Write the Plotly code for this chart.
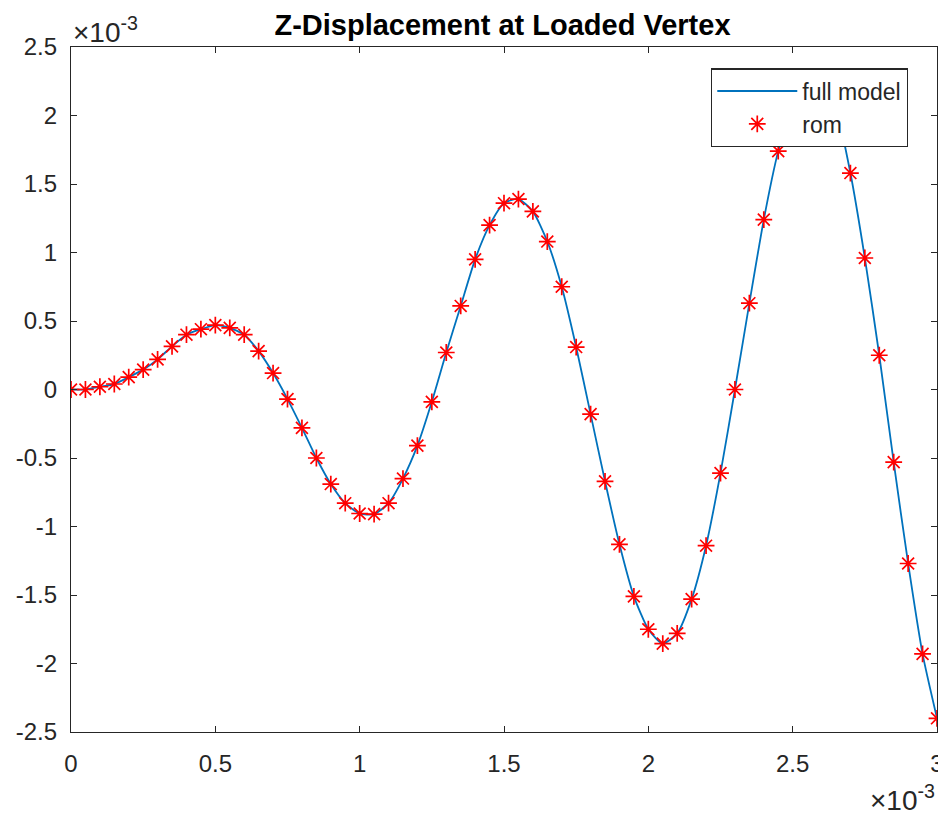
import plotly.graph_objects as go

# values are in units of 1e-3 (both axes), as on the MATLAB axes
t_full = [0.00, 0.05, 0.10, 0.15, 0.20, 0.25, 0.30, 0.35, 0.40, 0.45,
          0.50, 0.55, 0.60, 0.65, 0.70, 0.75, 0.80, 0.85, 0.90, 0.95,
          1.00, 1.05, 1.10, 1.15, 1.20, 1.25, 1.30, 1.35, 1.40, 1.45,
          1.50, 1.55, 1.60, 1.65, 1.70, 1.75, 1.80, 1.85, 1.90, 1.95,
          2.00, 2.05, 2.10, 2.15, 2.20, 2.25, 2.30, 2.35, 2.40, 2.45,
          2.50, 2.55, 2.60, 2.65, 2.70, 2.75, 2.80, 2.85, 2.90, 2.95,
          3.00]
uz_full = [0.00, 0.00, 0.02, 0.04, 0.09, 0.145, 0.22, 0.315, 0.40, 0.44,
           0.47, 0.45, 0.40, 0.28, 0.12, -0.07, -0.28, -0.50, -0.69, -0.83,
           -0.905, -0.91, -0.83, -0.65, -0.41, -0.09, 0.27, 0.61, 0.95, 1.20,
           1.36, 1.39, 1.30, 1.08, 0.75, 0.31, -0.18, -0.67, -1.13, -1.51,
           -1.75, -1.855, -1.78, -1.53, -1.14, -0.61, 0.00, 0.63, 1.24, 1.74,
           2.08, 2.27, 2.25, 2.05, 1.58, 0.96, 0.25, -0.53, -1.27, -1.93,
           -2.40]

t_rom = t_full
uz_rom = uz_full

x_tickvals = [0, 0.5, 1, 1.5, 2, 2.5, 3]
x_ticktext = ["0", "0.5", "1", "1.5", "2", "2.5", "3"]
y_tickvals = [-2.5, -2, -1.5, -1, -0.5, 0, 0.5, 1, 1.5, 2, 2.5]
y_ticktext = ["-2.5", "-2", "-1.5", "-1", "-0.5", "0", "0.5", "1", "1.5", "2", "2.5"]

axis_col = "#262626"
font_fam = "Liberation Sans, Arial, Helvetica, sans-serif"
exp_label = "\u00d710<sup>-3</sup>"

fig = go.Figure()

fig.add_trace(go.Scatter(
    x=t_full, y=uz_full,
    mode="lines",
    line=dict(color="#0072BD", width=1.8, shape="spline", smoothing=0.6),
    name="full model"
))

fig.add_trace(go.Scatter(
    x=t_rom, y=uz_rom,
    mode="markers",
    marker=dict(symbol="asterisk-open", size=14, color="red",
                line=dict(color="red", width=1.7)),
    name="rom"
))

axis_common = dict(
    showline=True, linecolor=axis_col, linewidth=1.3, mirror="ticks",
    ticks="inside", ticklen=6, tickwidth=1.3, tickcolor=axis_col,
    showgrid=False, zeroline=False, automargin=False,
    tickfont=dict(size=24, color=axis_col, family=font_fam),
)

# the page has an 8px body margin, so everything is shifted by -8 here
fig.update_layout(
    width=946, height=817,
    paper_bgcolor="white", plot_bgcolor="white",
    margin=dict(l=63, r=17, t=39, b=93),
    title=dict(text="<b>Z-Displacement at Loaded Vertex</b>",
               x=0.5227, xanchor="center", y=0.992, yanchor="top",
               font=dict(size=29, color="black", family=font_fam)),
    xaxis=dict(range=[0, 3], tickvals=x_tickvals, ticktext=x_ticktext,
               ticklabelstandoff=10, **axis_common),
    yaxis=dict(range=[-2.5, 2.5], tickvals=y_tickvals, ticktext=y_ticktext,
               ticklabelstandoff=8, **axis_common),
    showlegend=True,
    legend=dict(x=0.739, y=0.969, xanchor="left", yanchor="top",
                bgcolor="white", bordercolor=axis_col, borderwidth=1.3,
                font=dict(size=23, color=axis_col, family=font_fam),
                itemwidth=80, tracegroupgap=0),
    font=dict(family=font_fam),
)

fig.add_annotation(text=exp_label, xref="paper", yref="paper",
                   x=0.0, y=1.0, xanchor="left", yanchor="bottom", yshift=-3,
                   showarrow=False, font=dict(size=28, color=axis_col, family=font_fam))
fig.add_annotation(text=exp_label, xref="paper", yref="paper",
                   x=1.0, y=0.0, xanchor="right", yanchor="top", yshift=-46,
                   showarrow=False, font=dict(size=28, color=axis_col, family=font_fam))

fig.write_html("out.html")
